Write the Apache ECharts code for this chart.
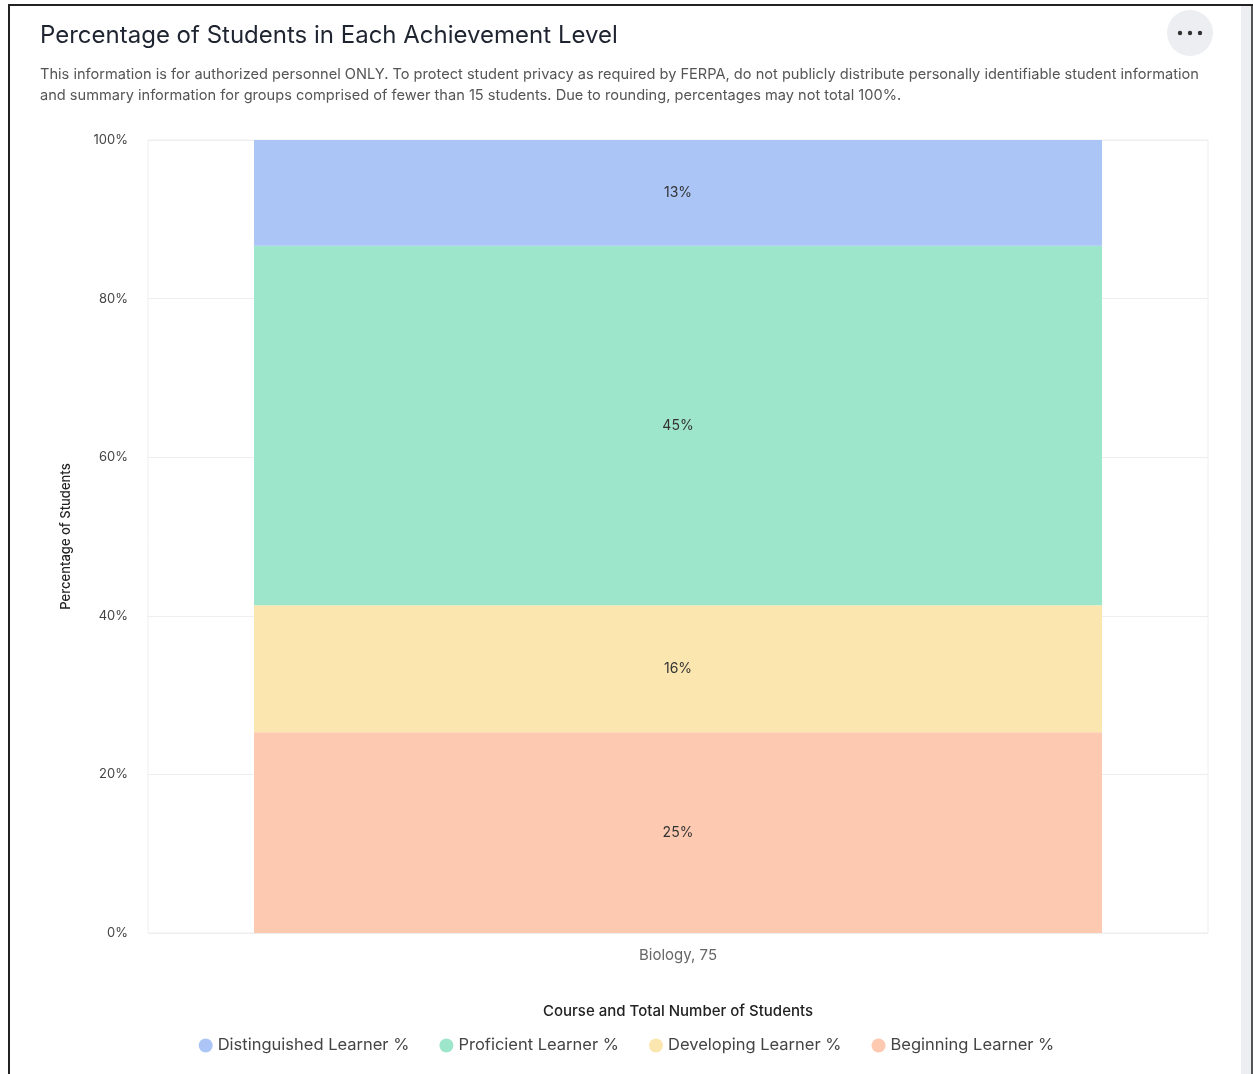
<!DOCTYPE html>
<html>
<head>
<meta charset="utf-8">
<script src="https://cdn.jsdelivr.net/npm/echarts@6/dist/echarts.min.js"></script>
<style>
    html, body { margin: 0; padding: 0; background: #fff; }
    /* screenshot frame around the card */
    .frame { position: absolute; left: 0; top: 0; width: 1253px; height: 1074px; }
    .frame .top { position: absolute; left: 8px; top: 4px; width: 1245px; height: 2px; background: #222; }
    .frame .left { position: absolute; left: 8px; top: 4px; width: 2px; height: 1070px; background: #222; }
    .frame .right { position: absolute; left: 1241px; top: 6px; width: 10px; height: 1068px; background: #eceef2; border-right: 2px solid #555; }
    #chart { position: absolute; left: 0; top: 0; width: 1253px; height: 1074px; }
</style>
</head>
<body>
<div class="frame"><div class="top"></div><div class="left"></div><div class="right"></div></div>
<div id="chart"></div>
<script>
// 数据
const categories = ['Biology, 75']
const levelNames = ['Beginning Learner %', 'Developing Learner %', 'Proficient Learner %', 'Distinguished Learner %']
const beginning = [25.33]
const developing = [16.0]
const proficient = [45.33]
const distinguished = [13.33]
const yTicks = [0, 20, 40, 60, 80, 100]

const levelValues = [beginning, developing, proficient, distinguished]
const levelColors = ['#fdc9b1', '#fbe6b0', '#9de5cb', '#abc5f6']
const legendOrder = ['Distinguished Learner %', 'Proficient Learner %', 'Developing Learner %', 'Beginning Learner %']

const font = 'Inter, Roboto, "Noto Sans", sans-serif'

const chart = echarts.init(document.getElementById('chart'))

const option = {
    textStyle: { fontFamily: font },
    animation: false,
    title: {
        text: 'Percentage of Students in Each Achievement Level',
        subtext: 'This information is for authorized personnel ONLY. To protect student privacy as required by FERPA, do not publicly distribute personally identifiable student information\nand summary information for groups comprised of fewer than 15 students. Due to rounding, percentages may not total 100%.',
        left: 35,
        top: 19,
        itemGap: 16,
        textStyle: { fontSize: 24, fontWeight: 'normal', color: '#1e2430', fontFamily: font },
        subtextStyle: { fontSize: 14.6, color: '#555', lineHeight: 21, fontFamily: font }
    },
    graphic: [
        // "..." menu button
        { type: 'circle', shape: { cx: 1190, cy: 33, r: 23 }, style: { fill: '#eceef1' } },
        { type: 'circle', shape: { cx: 1180, cy: 33, r: 2.2 }, style: { fill: '#333' } },
        { type: 'circle', shape: { cx: 1190, cy: 33, r: 2.2 }, style: { fill: '#333' } },
        { type: 'circle', shape: { cx: 1200, cy: 33, r: 2.2 }, style: { fill: '#333' } }
    ],
    legend: {
        data: legendOrder,
        bottom: 15,
        left: 'center',
        icon: 'circle',
        itemWidth: 14,
        itemHeight: 14,
        itemGap: 30,
        textStyle: { fontSize: 16.5, color: '#444', fontFamily: font }
    },
    grid: {
        left: 148,
        right: 45,
        top: 140,
        bottom: 141,
        show: true,
        borderColor: '#eeeeee',
        borderWidth: 1
    },
    xAxis: {
        type: 'category',
        data: categories,
        name: 'Course and Total Number of Students',
        nameLocation: 'middle',
        nameGap: 71,
        nameTextStyle: { fontSize: 15, color: '#222', fontWeight: 500 },
        axisLine: { show: false },
        axisTick: { show: false },
        axisLabel: { fontSize: 15, color: '#666', margin: 15 }
    },
    yAxis: {
        type: 'value',
        min: 0,
        max: 100,
        interval: 20,
        name: 'Percentage of Students',
        nameLocation: 'middle',
        nameGap: 75,
        nameTextStyle: { fontSize: 13, color: '#222', fontWeight: 500 },
        axisLabel: {
            fontSize: 13,
            color: '#444',
            margin: 20,
            formatter: v => yTicks.includes(v) ? v + '%' : ''
        },
        splitLine: { lineStyle: { color: '#eeeeee' } }
    },
    series: levelNames.map((name, i) => ({
        name: name,
        type: 'bar',
        stack: 'total',
        barWidth: '80%',
        data: levelValues[i],
        itemStyle: { color: levelColors[i] },
        label: {
            show: true,
            position: 'inside',
            fontSize: 14,
            color: '#333',
            formatter: p => Math.round(p.value) + '%'
        }
    }))
}

chart.setOption(option)
window.addEventListener('resize', () => chart.resize())
</script>
</body>
</html>
